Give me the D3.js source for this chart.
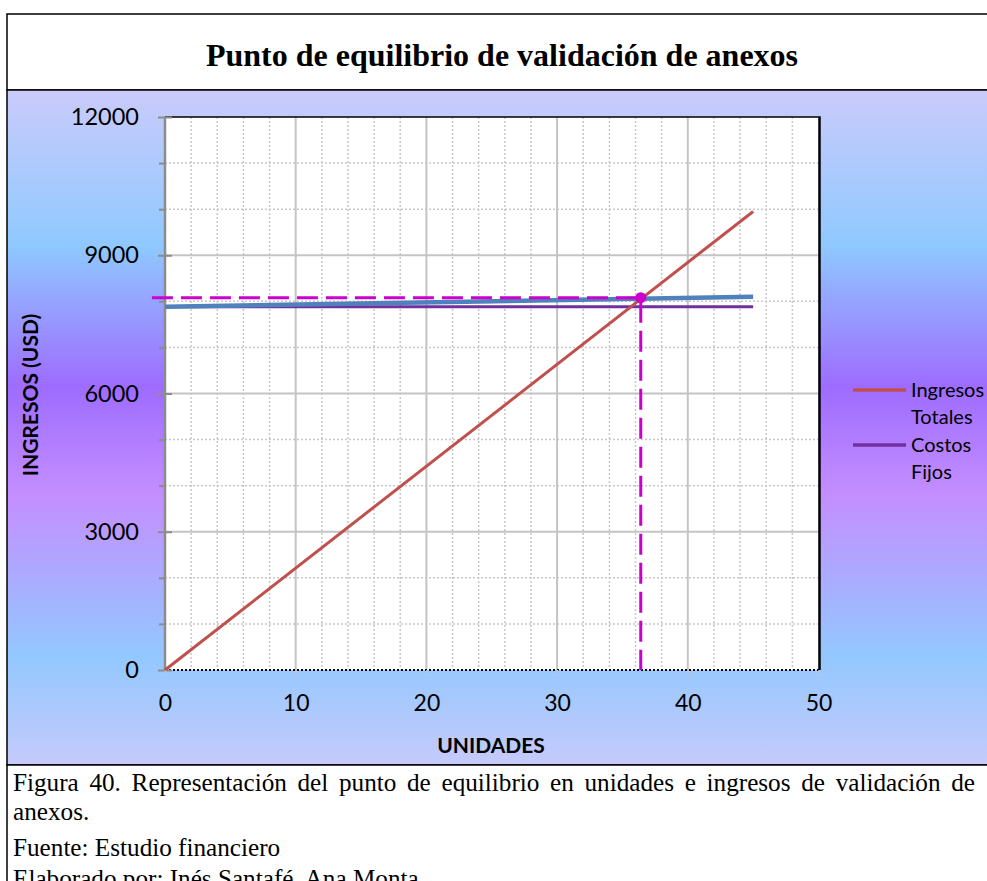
<!DOCTYPE html>
<html><head><meta charset="utf-8">
<script src="https://cdn.jsdelivr.net/npm/d3@7"></script>
<style>body{margin:0;background:#fff} svg{display:block}</style>
</head><body>
<script>
// ---- data ----
const units = [0, 45];
const ingresosTotales = [0, 9950];
const costosFijos = [7880, 7880];
const costosTotales = [7880, 8100];
const equilibrioUnits = [-1, 36.4, 36.4];
const equilibrioValues = [8080, 8080, 0];
const puntoEquilibrio = [36.4, 8080];
const xTicks = [0, 10, 20, 30, 40, 50];
const yTicks = [0, 3000, 6000, 9000, 12000];
const yMinorTicks = [1000, 2000, 4000, 5000, 7000, 8000, 10000, 11000];
const xMinorTicks = [2,4,6,8,12,14,16,18,22,24,26,28,32,34,36,38,42,44,46,48];
const legendLabels = [["Ingresos", "Totales"], ["Costos", "Fijos"]];
const titleText = "Punto de equilibrio de validación de anexos";
const captionLines = [
  "Figura 40. Representación del punto de equilibrio en unidades e ingresos de validación de",
  "anexos.",
  "Fuente: Estudio financiero",
  "Elaborado por: Inés Santafé, Ana Monta"
];

const W = 987, H = 881;
const svg = d3.select("body").append("svg").attr("width", W).attr("height", H);
const defs = svg.append("defs");
const grad = defs.append("linearGradient").attr("id", "bg")
  .attr("x1", 0).attr("y1", 0).attr("x2", 0).attr("y2", 1);
[[0, "#CACBFB"], [0.23, "#8FC9FF"], [0.44, "#9E6CFF"], [0.6, "#C48EFF"],
 [0.84, "#93C8FF"], [1, "#C6CAFB"]].forEach(([o, c]) =>
  grad.append("stop").attr("offset", o).attr("stop-color", c));

// frames
svg.append("rect").attr("x", 7).attr("y", 14).attr("width", 1000).attr("height", 76)
  .attr("fill", "#fff").attr("stroke", "#000").attr("stroke-width", 1.5);
svg.append("rect").attr("x", 7).attr("y", 90).attr("width", 1000).attr("height", 675)
  .attr("fill", "url(#bg)").attr("stroke", "#000").attr("stroke-width", 1.5);
svg.append("rect").attr("x", 7).attr("y", 765).attr("width", 1000).attr("height", 200)
  .attr("fill", "#fff").attr("stroke", "#000").attr("stroke-width", 1.5);

svg.append("text").attr("x", 502).attr("y", 66).attr("text-anchor", "middle")
  .attr("font-family", "'Liberation Serif', 'Times New Roman', serif")
  .attr("font-weight", "bold").attr("font-size", 32).text(titleText);

// scales
const x = d3.scaleLinear().domain([0, 50]).range([165, 818.5]);
const y = d3.scaleLinear().domain([0, 12000]).range([670, 117]);

const g = svg.append("g");
g.append("rect").attr("x", x(0)).attr("y", y(12000))
  .attr("width", x(50) - x(0)).attr("height", y(0) - y(12000)).attr("fill", "#fff");

// minor grid
g.selectAll(".vminor").data(xMinorTicks).join("line")
  .attr("x1", d => x(d)).attr("x2", d => x(d)).attr("y1", y(12000)).attr("y2", y(0))
  .attr("stroke", "#C8C8C8").attr("stroke-width", 1.5).attr("stroke-dasharray", "2,2");
g.selectAll(".hminor").data(yMinorTicks).join("line")
  .attr("x1", x(0)).attr("x2", x(50)).attr("y1", d => y(d)).attr("y2", d => y(d))
  .attr("stroke", "#C8C8C8").attr("stroke-width", 1.5).attr("stroke-dasharray", "2,2");
// major grid
g.selectAll(".vmajor").data(xTicks.filter(d => d > 0 && d < 50)).join("line")
  .attr("x1", d => x(d)).attr("x2", d => x(d)).attr("y1", y(12000)).attr("y2", y(0))
  .attr("stroke", "#C4C4C4").attr("stroke-width", 2);
g.selectAll(".hmajor").data(yTicks.filter(d => d > 0 && d < 12000)).join("line")
  .attr("x1", x(0)).attr("x2", x(50)).attr("y1", d => y(d)).attr("y2", d => y(d))
  .attr("stroke", "#C4C4C4").attr("stroke-width", 2);

// borders
g.append("line").attr("x1", x(0)).attr("x2", x(50)).attr("y1", y(12000)).attr("y2", y(12000))
  .attr("stroke", "#000").attr("stroke-width", 1.5);
g.append("line").attr("x1", x(50) + 1).attr("x2", x(50) + 1).attr("y1", y(12000) - 0.75).attr("y2", y(0))
  .attr("stroke", "#000").attr("stroke-width", 2.5);
g.append("line").attr("x1", x(0)).attr("x2", x(50) + 2).attr("y1", y(0)).attr("y2", y(0))
  .attr("stroke", "#000").attr("stroke-width", 2).attr("stroke-dasharray", "2,2");

const fontSans = "Lato, 'Open Sans', sans-serif";

// y axis
const yAxis = d3.axisLeft(y).tickValues(yTicks).tickFormat(d3.format("d")).tickSize(7).tickPadding(19);
const ya = svg.append("g").attr("transform", `translate(${x(0)},0)`).call(yAxis);
ya.select(".domain").remove();
ya.selectAll(".tick line").attr("stroke", "#8C8C8C").attr("stroke-width", 2);
ya.selectAll(".tick text").attr("font-family", fontSans).attr("font-size", 23.5).attr("fill", "#000");
const yAxisIn = d3.axisRight(y).tickValues(yTicks).tickSize(7).tickFormat("");
const yai = svg.append("g").attr("transform", `translate(${x(0)},0)`).call(yAxisIn);
yai.select(".domain").remove();
yai.selectAll(".tick line").attr("stroke", "#8C8C8C").attr("stroke-width", 2);
const yMinor = d3.axisLeft(y).tickValues(yMinorTicks).tickSize(6).tickFormat("");
const ym = svg.append("g").attr("transform", `translate(${x(0)},0)`).call(yMinor);
ym.select(".domain").remove();
ym.selectAll(".tick line").attr("stroke", "#8C8C8C").attr("stroke-width", 2);
svg.append("line").attr("x1", x(0)).attr("x2", x(0)).attr("y1", y(12000)).attr("y2", y(0) + 1)
  .attr("stroke", "#8C8C8C").attr("stroke-width", 2.5);

// x axis
const xAxis = d3.axisBottom(x).tickValues(xTicks).tickSize(8).tickPadding(17);
const xa = svg.append("g").attr("transform", `translate(0,${y(0)})`).call(xAxis);
xa.select(".domain").remove();
xa.selectAll(".tick line").attr("stroke", "#C8C8C8").attr("stroke-width", 1.5).attr("stroke-dasharray", "2,2");
xa.selectAll(".tick text").attr("font-family", fontSans).attr("font-size", 23).attr("fill", "#000");

// axis titles
svg.append("text").attr("x", 491).attr("y", 753).attr("text-anchor", "middle")
  .attr("font-family", fontSans).attr("font-weight", "bold").attr("font-size", 21).text("UNIDADES");
svg.append("text").attr("transform", "translate(38,395) rotate(-90)").attr("text-anchor", "middle")
  .attr("font-family", fontSans).attr("font-weight", "bold").attr("font-size", 21).text("INGRESOS (USD)");

// series
const line = d3.line().x(d => x(d[0])).y(d => y(d[1]));
const zipS = vals => units.map((u, i) => [u, vals[i]]);
svg.append("path").attr("d", line(zipS(costosFijos))).attr("fill", "none")
  .attr("stroke", "#7030A0").attr("stroke-width", 3);
svg.append("path").attr("d", line(zipS(costosTotales))).attr("fill", "none")
  .attr("stroke", "#4F81BD").attr("stroke-width", 4.5);
svg.append("path").attr("d", line(zipS(ingresosTotales))).attr("fill", "none")
  .attr("stroke", "#C0504D").attr("stroke-width", 3);
svg.append("path").attr("d", line(equilibrioUnits.map((u, i) => [u, equilibrioValues[i]])))
  .attr("fill", "none").attr("stroke", "#CC00CC").attr("stroke-width", 3)
  .attr("stroke-dasharray", "21,8");
svg.append("circle").attr("cx", x(puntoEquilibrio[0])).attr("cy", y(puntoEquilibrio[1]))
  .attr("r", 5.5).attr("fill", "#CC00CC");

// legend
const legColors = ["#C0504D", "#7030A0"];
const legY = [390, 445];
legendLabels.forEach((lab, i) => {
  svg.append("line").attr("x1", 853).attr("x2", 906).attr("y1", legY[i]).attr("y2", legY[i])
    .attr("stroke", legColors[i]).attr("stroke-width", 3.5);
  lab.forEach((t, j) => svg.append("text").attr("x", 911).attr("y", legY[i] + 7 + j * 26.5)
    .attr("font-family", fontSans).attr("font-size", 20).text(t));
});

// caption (first line justified like the source paragraph)
const capY = [791, 820, 856, 887];
captionLines.forEach((t, i) => {
  const tx = svg.append("text").attr("x", 13).attr("y", capY[i])
    .attr("font-family", "'Liberation Serif', 'Times New Roman', serif").attr("font-size", 25.2).text(t);
  if (i === 0) {
    const w = tx.node().getComputedTextLength();
    const spaces = (t.match(/ /g) || []).length;
    tx.attr("word-spacing", Math.max(0, (962 - w) / spaces));
  }
});
</script>
</body></html>
